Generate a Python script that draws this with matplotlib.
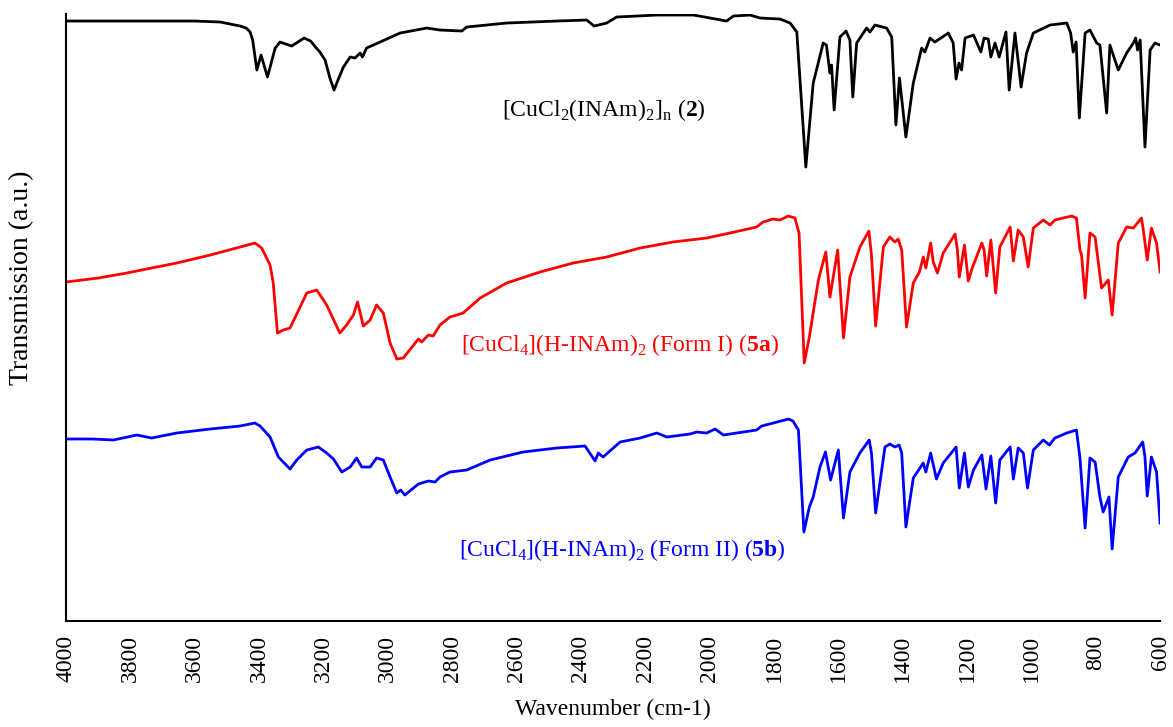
import numpy as np
import matplotlib
matplotlib.use("Agg")
import matplotlib.pyplot as plt

plt.rcParams["font.family"] = "Liberation Serif"
plt.rcParams["mathtext.fontset"] = "custom"
plt.rcParams["mathtext.rm"] = "Liberation Serif"
plt.rcParams["mathtext.bf"] = "Liberation Serif:bold"

# IR spectra (wavenumber in cm-1, transmission in a.u.)
wn_2 = [4000, 3900, 3800, 3700, 3600, 3521, 3459, 3440, 3428, 3420, 3407, 3394, 3374, 3360,
        3350, 3335, 3299, 3260, 3240, 3225, 3211, 3195, 3180, 3167, 3155, 3138, 3117, 3102,
        3086, 3079, 3066, 3024, 2962, 2879, 2838, 2770, 2755, 2631, 2475, 2382, 2359, 2320,
        2289, 2164, 2050, 1947, 1926, 1874, 1843, 1781, 1750, 1729, 1701, 1678, 1647, 1637,
        1626, 1621, 1613, 1595, 1576, 1564, 1555, 1543, 1512, 1502, 1486, 1450, 1434, 1421,
        1410, 1390, 1367, 1341, 1331, 1315, 1300, 1258, 1243, 1234, 1225, 1217, 1206, 1180,
        1157, 1147, 1134, 1126, 1113, 1100, 1079, 1069, 1051, 1032, 1015, 994, 942, 890, 878,
        870, 861, 851, 833, 818, 797, 787, 766, 756, 730, 704, 683, 676, 670, 662, 647, 631,
        616, 600]
t_2 = [600, 600, 600, 600, 600, 599, 595, 593, 589, 581, 551, 566, 544, 561,
       573, 579, 575, 583, 580, 574, 569, 561, 543, 531, 541, 554, 564, 563,
       568, 564, 573, 579, 588, 593, 591, 590, 594, 598, 600, 601, 595, 598,
       604, 606, 606, 600, 605, 606, 603, 602, 598, 589, 454, 538, 578, 576,
       548, 556, 511, 584, 590, 581, 524, 578, 593, 589, 596, 593, 584, 496,
       543, 484, 538, 573, 569, 583, 579, 588, 578, 542, 558, 551, 583, 586,
       569, 583, 582, 564, 578, 564, 589, 531, 588, 534, 568, 588, 596, 598, 588,
       569, 579, 503, 588, 591, 578, 576, 508, 576, 551, 568, 578, 583, 571, 581, 474, 571,
       578, 576]

wn_5a = [4000, 3900, 3811, 3750, 3656, 3552, 3459, 3413, 3392, 3366, 3356, 3343, 3325, 3304,
         3280, 3252, 3221, 3190, 3149, 3128, 3107, 3094, 3076, 3055, 3035, 3014, 2993, 2972,
         2952, 2905, 2895, 2874, 2859, 2838, 2807, 2766, 2713, 2631, 2527, 2424, 2320, 2216,
         2114, 2009, 1937, 1854, 1834, 1803, 1781, 1756, 1735, 1722, 1706, 1690, 1662, 1639,
         1626, 1602, 1584, 1564, 1533, 1505, 1497, 1484, 1460, 1440, 1424, 1414, 1403, 1388,
         1367, 1348, 1336, 1328, 1313, 1305, 1292, 1274, 1237, 1230, 1224, 1208, 1196, 1185,
         1154, 1147, 1139, 1126, 1111, 1098, 1066, 1056, 1041, 1025, 1010, 994, 963, 942, 927,
         875, 860, 849, 844, 833, 818, 802, 782, 761, 749, 730, 704, 683, 658, 653, 640, 627,
         611, 600]
t_5a = [339, 343, 348, 352, 358, 366, 374, 378, 373, 356, 338, 288, 291, 293,
        309, 328, 331, 316, 288, 296, 306, 319, 295, 301, 316, 308, 278, 262,
        263, 282, 279, 286, 285, 296, 304, 308, 323, 338, 349, 358, 364, 373,
        379, 383, 388, 394, 399, 402, 401, 405, 403, 388, 258, 284, 341, 369,
        324, 371, 283, 344, 374, 390, 366, 295, 374, 384, 379, 382, 371, 294,
        338, 349, 364, 353, 378, 359, 348, 368, 387, 371, 344, 376, 340, 352,
        378, 371, 345, 381, 328, 374, 394, 360, 391, 384, 354, 393, 401, 396, 401,
        405, 403, 371, 366, 323, 388, 384, 333, 341, 306, 378, 394, 393, 403, 393, 361, 393,
        378, 349]

wn_5b = [4000, 3917, 3853, 3780, 3734, 3656, 3552, 3459, 3413, 3397, 3366, 3340, 3304, 3283,
         3252, 3216, 3190, 3169, 3143, 3117, 3097, 3081, 3055, 3035, 3014, 2993, 2972, 2960,
         2947, 2905, 2874, 2853, 2838, 2807, 2755, 2682, 2580, 2475, 2387, 2356, 2346, 2331,
         2278, 2216, 2164, 2133, 2061, 2040, 2009, 1983, 1957, 1854, 1838, 1802, 1755, 1741,
         1724, 1707, 1690, 1678, 1657, 1640, 1624, 1600, 1584, 1564, 1533, 1504, 1497, 1484,
         1455, 1440, 1424, 1411, 1403, 1390, 1367, 1336, 1328, 1313, 1295, 1274, 1234, 1224,
         1208, 1196, 1180, 1154, 1141, 1126, 1111, 1098, 1066, 1056, 1041, 1025, 1012, 994,
         963, 944, 927, 890, 860, 849, 833, 818, 802, 787, 777, 759, 749, 730, 699, 678, 654,
         647, 640, 627, 611, 600]
t_5b = [182, 182, 181, 186, 183, 188, 192, 195, 198, 195, 184, 164, 152, 161,
        171, 174, 168, 162, 149, 154, 163, 154, 154, 163, 161, 144, 128, 131,
        126, 137, 140, 139, 144, 149, 151, 161, 169, 173, 175, 160, 168, 164,
        179, 183, 188, 184, 187, 189, 188, 192, 186, 191, 195, 198, 202, 200,
        191, 89, 114, 124, 154, 169, 141, 171, 103, 149, 168, 181, 168, 108,
        174, 177, 174, 176, 168, 94, 143, 158, 149, 168, 142, 158, 174, 133,
        168, 134, 151, 166, 132, 165, 118, 161, 174, 142, 173, 168, 133, 171,
        181, 176, 183, 188, 191, 163, 93, 163, 159, 124, 109, 124, 72, 144, 164, 168, 179,
        164, 125, 164, 149, 98]

labels = [r"[CuCl$_2$(INAm)$_2$]$_\mathrm{n}$ ($\mathbf{2}$)",
          r"[CuCl$_4$](H-INAm)$_2$ (Form I) ($\mathbf{5a}$)",
          r"[CuCl$_4$](H-INAm)$_2$ (Form II) ($\mathbf{5b}$)"]
colors = ["black", "#FF0000", "#0000FF"]

fig = plt.figure(figsize=(11.73, 7.27), dpi=100)
ax = fig.add_axes([0.0563, 0.1458, 0.9327, 0.8349])

for wn, t, c in zip([wn_2, wn_5a, wn_5b], [t_2, t_5a, t_5b], colors):
    ax.plot(wn, t, color=c, linewidth=2.0, solid_joinstyle="round")

# curve labels
label_pos = [(2328, 511), (2279, 276), (2272, 71)]
for (x, y), txt, c in zip(label_pos, labels, colors):
    ax.text(x, y, txt, color=c, fontsize=17, ha="center", va="center")

ax.set_xlim(4000, 600)
ax.set_ylim(0, 607)
ax.set_xticks(np.arange(4000, 599, -200))
ax.tick_params(axis="x", length=0, pad=10, labelsize=17, labelrotation=90)
ax.set_yticks([])
for side in ["top", "right"]:
    ax.spines[side].set_visible(False)
for side in ["left", "bottom"]:
    ax.spines[side].set_linewidth(1.5)

ax.set_xlabel("Wavenumber (cm-1)", fontsize=17, labelpad=12)
ax.set_ylabel("Transmission (a.u.)", fontsize=20)
ax.yaxis.set_label_coords(-0.029, 0.565)

fig.savefig("out.png", dpi=100)
